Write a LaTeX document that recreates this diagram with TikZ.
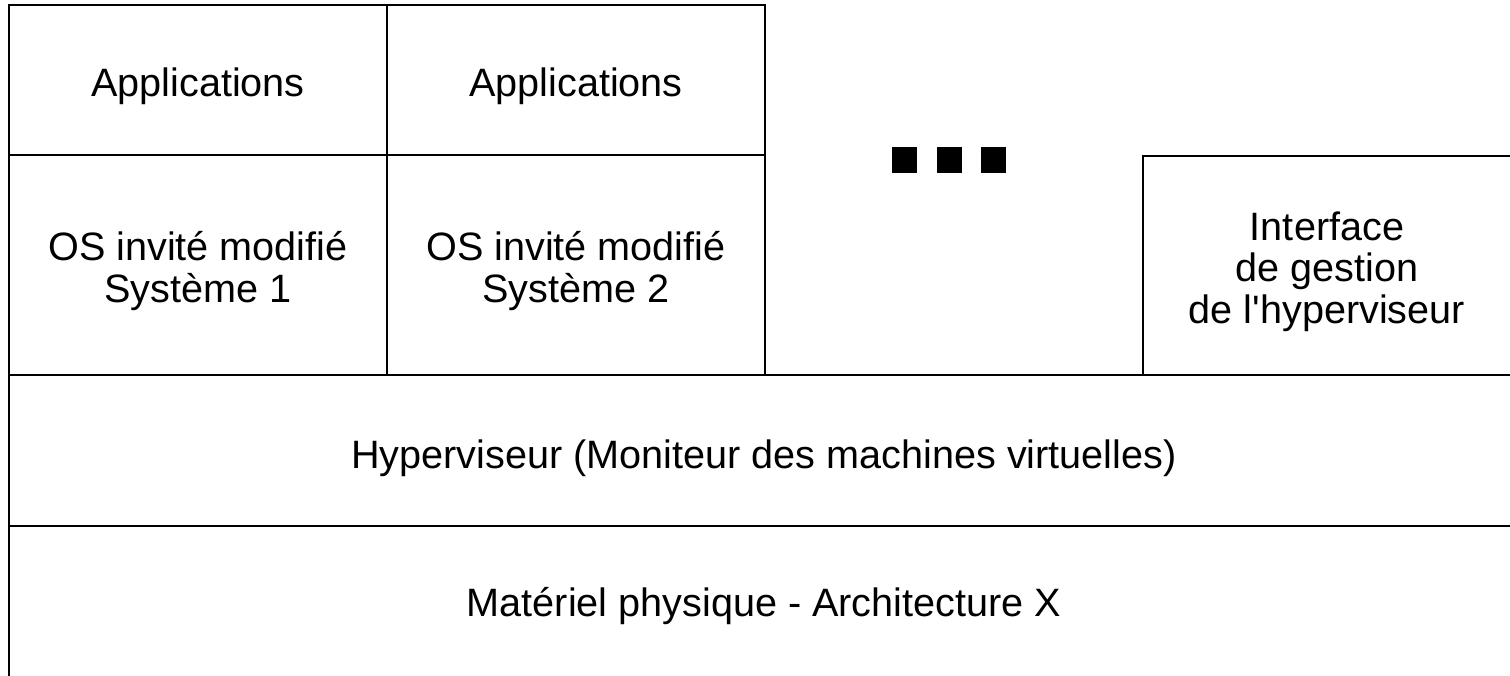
\documentclass[tikz,border=0pt]{standalone}
\usepackage{fontspec}
\newfontfamily\layerfont{Liberation Sans}
\usepackage{tikz}
\usetikzlibrary{positioning}

\begin{document}
\begin{tikzpicture}
        [
            x=1pt, y=-1pt,
            layer/.style={rectangle, draw, line width=1.6pt, inner sep=0pt},
            txt/.style={align=center, inner sep=0pt, yshift=-6pt, font=\layerfont\fontsize{39.6}{41.5}\selectfont},
            square/.style={rectangle, fill=black, inner sep=0pt, minimum width=25pt, minimum height=26pt},
        ]
            \clip (0,0) rectangle (1510,675);
            \node[layer, minimum width=378pt, minimum height=150pt] (A1) at (198.0, 80.0) {};
            \node[layer, minimum width=378pt, minimum height=150pt] (A2) at (576.0, 80.0) {};
            \node[layer, minimum width=378pt, minimum height=220pt] (S1) at (198.0, 265.0) {};
            \node[layer, minimum width=378pt, minimum height=220pt] (S2) at (576.0, 265.0) {};
            \node[layer, minimum width=370pt, minimum height=219pt] (I) at (1328.0, 265.5) {};
            \node[layer, minimum width=1505pt, minimum height=151pt] (H) at (761.5, 450.5) {};
            \node[layer, minimum width=1505pt, minimum height=160pt] (M) at (761.5, 606.0) {};
            
            \node[txt] (A1t) at (A1.center) {Applications};
            \node[txt] (A2t) at (A2.center) {Applications};
            \node[txt] (S1t) at (S1.center) {OS invité modifié\\Système 1};
            \node[txt] (S2t) at (S2.center) {OS invité modifié\\Système 2};
            \node[txt] (It) at (1327.0, 265.5) {Interface\\de gestion\\de l'hyperviseur};
            \node[txt, yshift=-2pt] (Ht) at (764.0, 450.5) {Hyperviseur (Moniteur des machines virtuelles)};
            \node[txt] (Mt) at (764.0, 600.0) {Matériel physique - Architecture X};
            
            \foreach \n/\x in {1/904.5, 2/949.5, 3/993.5}
                \node[square] (D\n) at (\x, 160.0) {};
        \end{tikzpicture}
\end{document}
